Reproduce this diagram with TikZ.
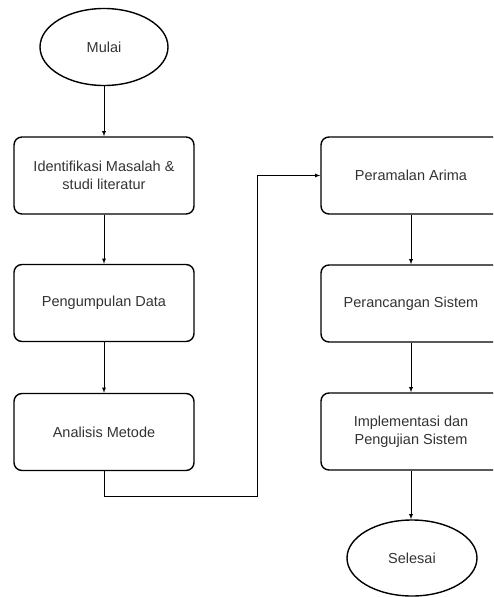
\documentclass[tikz,border=0pt]{standalone}
\usepackage{fontspec}
\setmainfont{Liberation Sans}
\usetikzlibrary{shapes.geometric}
\definecolor{teks}{HTML}{333333}

\begin{document}
\begin{tikzpicture}[x=1pt,y=-1pt,
  proses/.style={draw, line width=1.4pt, rounded corners=8pt, minimum width=180pt,
    minimum height=77pt, align=center, text=teks, font=\fontsize{14.5}{18}\selectfont},
  terminal/.style={draw, ellipse, line width=1.4pt, minimum width=128pt,
    minimum height=77pt, text=teks, font=\fontsize{14.5}{18}\selectfont},
  panah/.style={->, >=latex, line width=0.8pt}]
\useasboundingbox (0,0) rectangle (493,597);
\clip (0,0) rectangle (493,597);

% kolom kiri
\node[terminal] (mulai) at (104,47) {Mulai};
\node[proses] (identifikasi) at (104,175.5) {Identifikasi Masalah \&\\studi literatur};
\node[proses] (pengumpulan) at (104,303) {Pengumpulan Data};
\node[proses] (analisis) at (104,432) {Analisis Metode};

% kolom kanan
\node[proses] (peramalan) at (411,175.5) {Peramalan Arima};
\node[proses] (perancangan) at (411,303.5) {Perancangan Sistem};
\node[proses] (implementasi) at (411,431.5) {Implementasi dan\\Pengujian Sistem};
\node[terminal, minimum width=130pt, minimum height=76pt] (selesai) at (412,558) {Selesai};

\draw[panah] (mulai) -- (identifikasi);
\draw[panah] (identifikasi) -- (pengumpulan);
\draw[panah] (pengumpulan) -- (analisis);
\coordinate (belok) at (257,496);
\draw[panah] (analisis.south) |- (belok) |- (peramalan.west);
\draw[panah] (peramalan) -- (perancangan);
\draw[panah] (perancangan) -- (implementasi);
\draw[panah] (implementasi.south) -- (implementasi.south |- selesai.north);
\end{tikzpicture}
\end{document}
